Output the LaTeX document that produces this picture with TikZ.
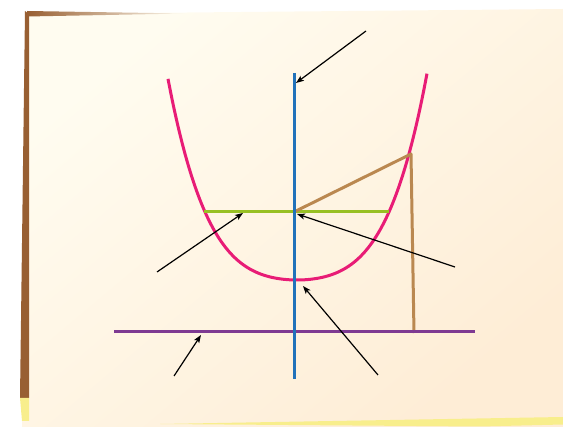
\documentclass[tikz,border=0pt]{standalone}
\usetikzlibrary{arrows.meta}
\definecolor{paperA}{RGB}{255,252,240}
\definecolor{paperB}{RGB}{254,237,214}
\definecolor{edgebrown}{RGB}{152,95,50}
\definecolor{edgeyellow}{RGB}{248,238,140}
\definecolor{parabcol}{RGB}{232,28,118}
\definecolor{axiscol}{RGB}{33,114,186}
\definecolor{latuscol}{RGB}{152,192,36}
\definecolor{triancol}{RGB}{186,136,80}
\definecolor{dircol}{RGB}{126,58,146}
\tikzset{
  curveline/.style={line width=3pt, draw=parabcol},
  axisline/.style={line width=3pt, draw=axiscol},
  latusline/.style={line width=3pt, draw=latuscol},
  trianline/.style={line width=3pt, draw=triancol},
  dirline/.style={line width=3pt, draw=dircol},
  pointer/.style={line width=1.2pt, draw=black, -{Stealth[length=8pt,width=6pt,inset=2pt]}},
}
\begin{document}
\begin{tikzpicture}[x=1pt,y=-1pt]
\useasboundingbox (0,0) rectangle (563,427);
% paper
\path[top color=paperA, bottom color=paperB, shading angle=40]
  (27,14) -- (563,9) -- (563,427) -- (22,427) -- cycle;
\shade[left color=edgebrown, right color=paperA] (27,11) -- (185,13.5) -- (27,16.5) -- cycle;
\fill[edgebrown] (25,11) -- (29,14) -- (29,398) -- (20,398) -- cycle;
\fill[edgeyellow] (20,398) -- (29,398) -- (29,421) -- (22,421) -- cycle;
\fill[edgeyellow] (160,424) -- (563,417) -- (563,424.5) -- (480,426.5) -- cycle;
% coordinates
\coordinate (axT) at (294,73);
\coordinate (axB) at (294,379);
\coordinate (F) at (294,212);
\coordinate (LL) at (204,212);
\coordinate (LR) at (389,212);
\coordinate (P) at (411,154);
\coordinate (Pd) at (414,333);
\coordinate (dL) at (114,332);
\coordinate (dR) at (475,332);
% parabola
\draw[curveline] plot[domain=-1.29:1.3, samples=90, smooth, variable=\u]
  ({297+100*\u},{280-38.5*\u*\u-49.5*\u*\u*\u*\u});
% lines
\draw[latusline] (LL) -- (LR);
\draw[trianline, line join=round] (F) -- (P) -- (Pd);
\draw[dirline] (dL) -- (dR);
\draw[axisline] (axT) -- (axB);
% arrows
\coordinate (a1t) at (366,31);  \coordinate (a1h) at (296,83);
\coordinate (a2t) at (157,272); \coordinate (a2h) at (243,213);
\coordinate (a3t) at (455,267); \coordinate (a3h) at (297,214);
\coordinate (a4t) at (378,375); \coordinate (a4h) at (303,286);
\coordinate (a5t) at (174,376); \coordinate (a5h) at (201,335);
\draw[pointer] (a1t) -- (a1h);
\draw[pointer] (a2t) -- (a2h);
\draw[pointer] (a3t) -- (a3h);
\draw[pointer] (a4t) -- (a4h);
\draw[pointer] (a5t) -- (a5h);
\end{tikzpicture}
\end{document}
